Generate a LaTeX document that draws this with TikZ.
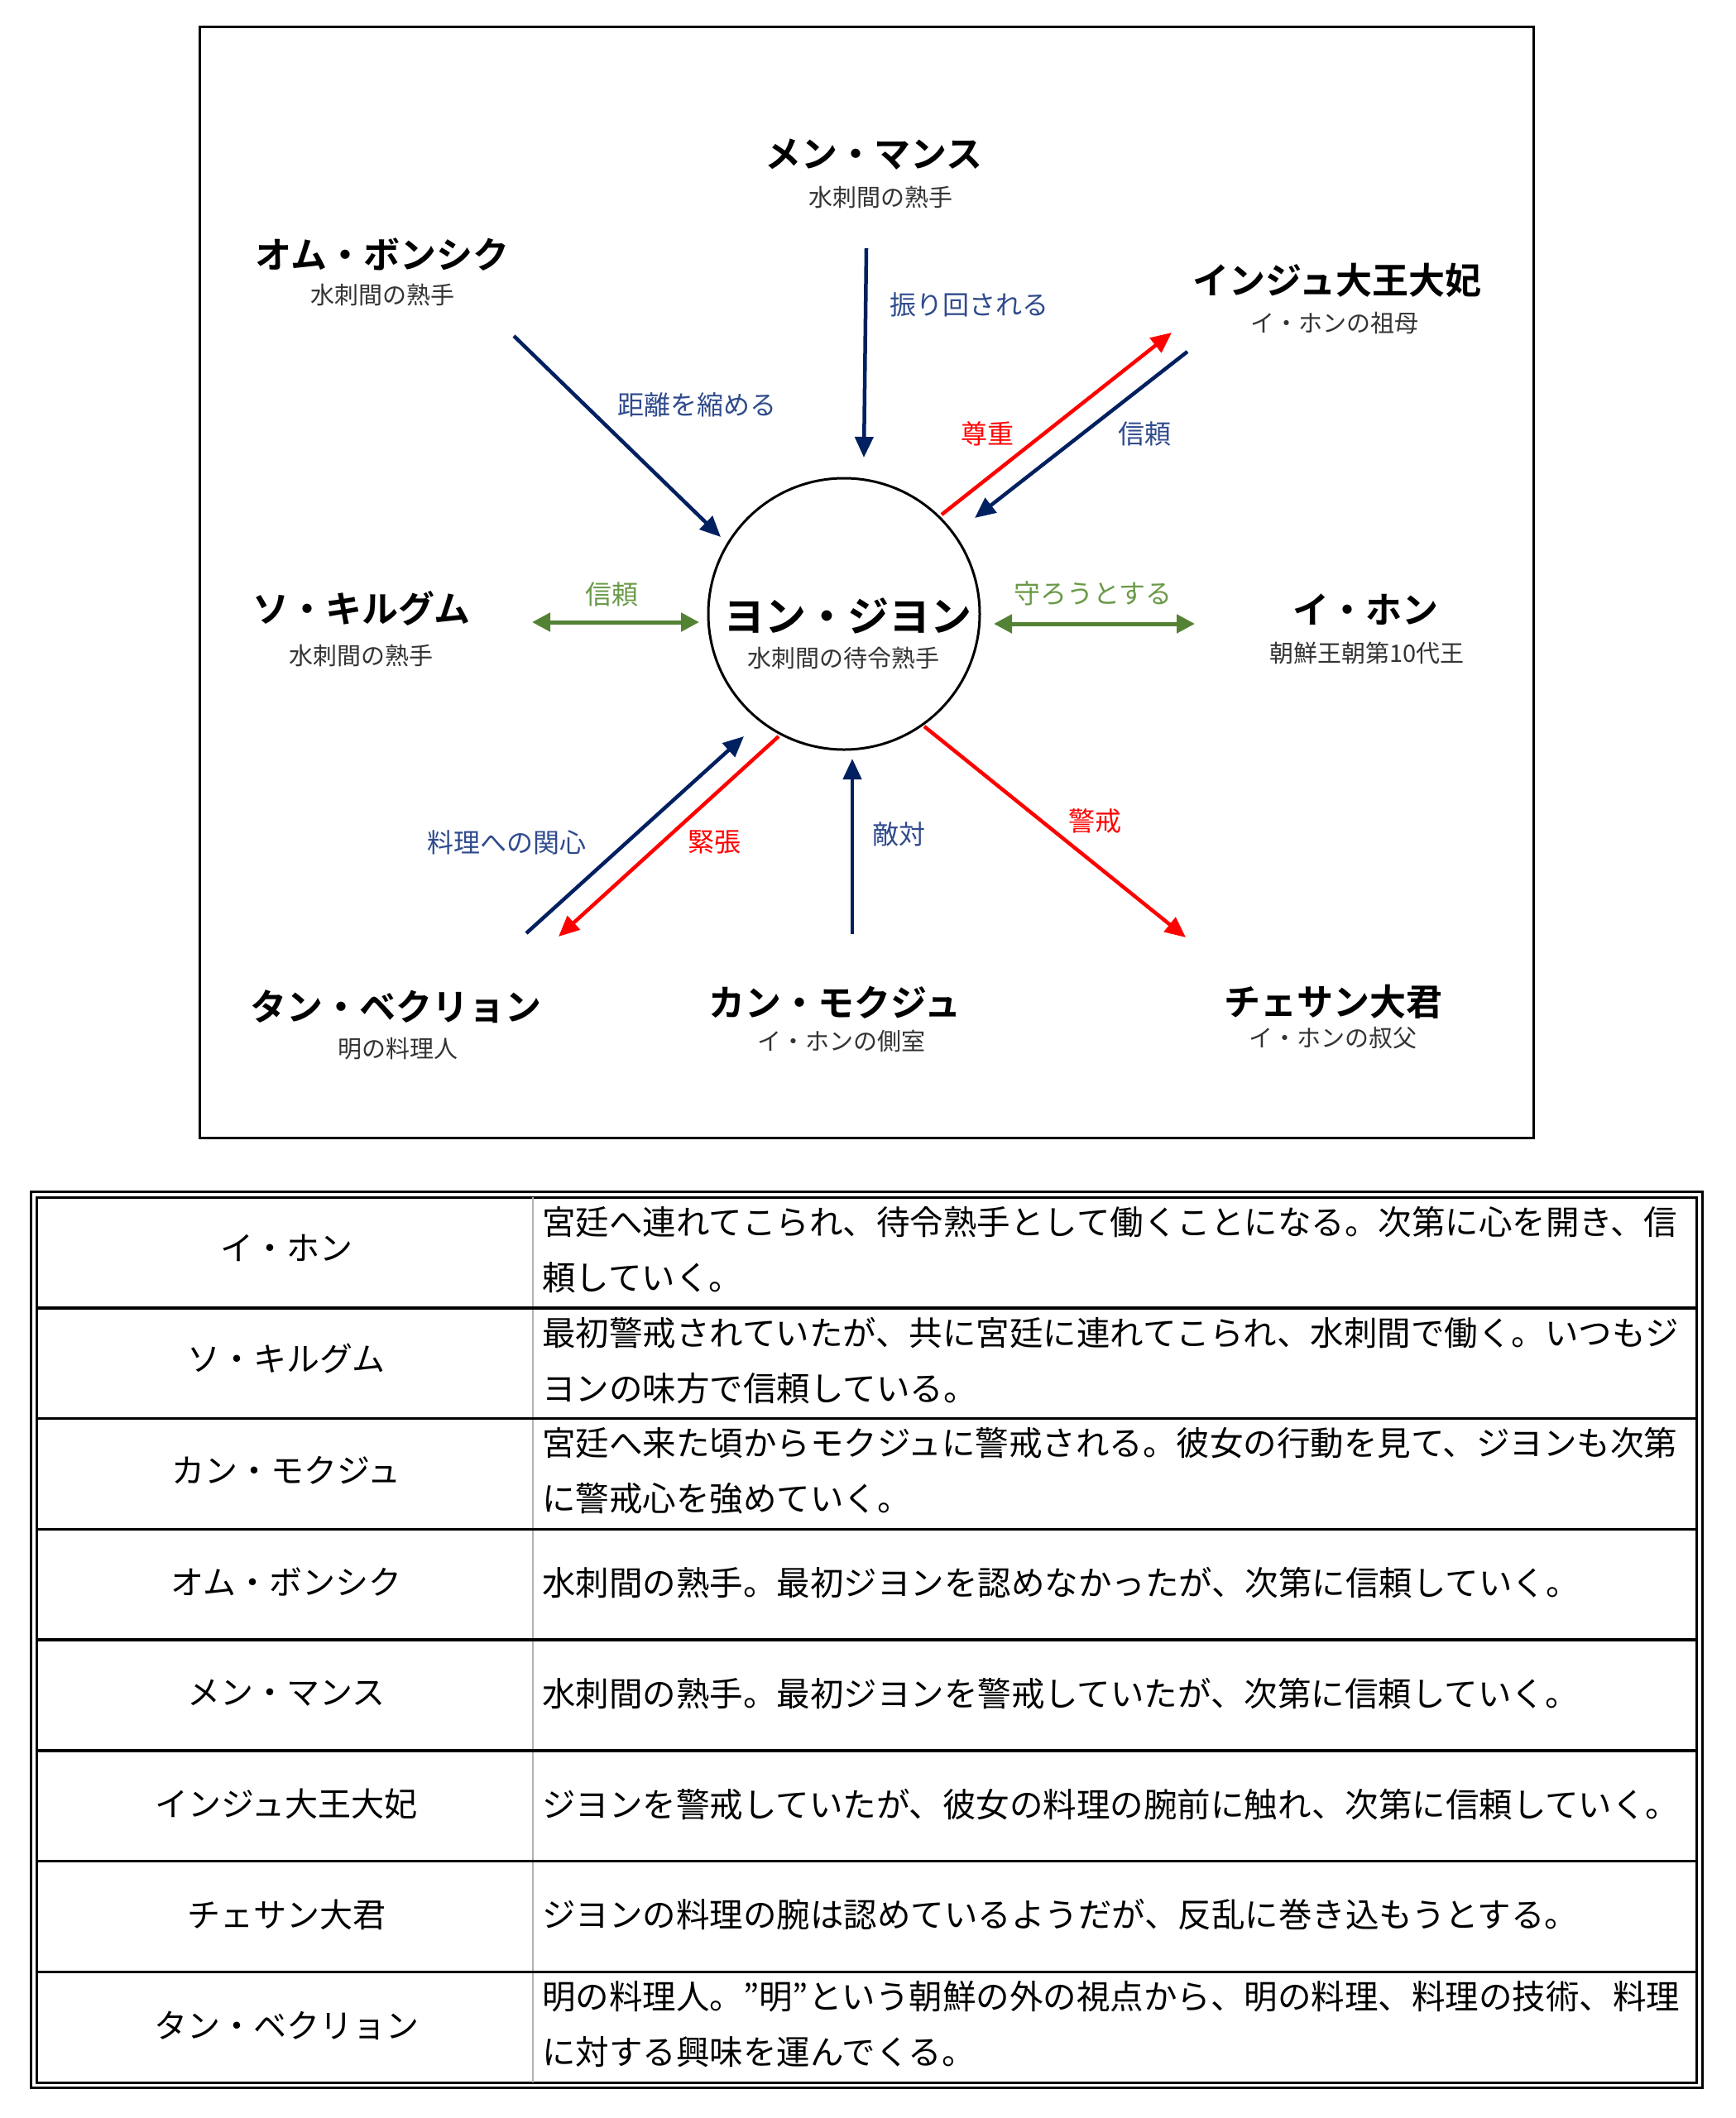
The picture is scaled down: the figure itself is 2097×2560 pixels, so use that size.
\documentclass[tikz,border=0pt]{standalone}
\usepackage{fontspec}
\setmainfont{Noto Sans CJK JP}[BoldFont={Noto Sans CJK JP Bold}]
\usetikzlibrary{arrows.meta}
\definecolor{relnavy}{HTML}{002060}
\definecolor{relred}{HTML}{FF0000}
\definecolor{relgreen}{HTML}{548235}
\definecolor{navytext}{HTML}{2F4B8C}
\definecolor{greentext}{HTML}{6A9A48}

\begin{document}
\begin{tikzpicture}[x=1pt,y=-1pt,
  charname/.style={font=\fontsize{44}{50}\selectfont\bfseries, inner sep=0pt},
  charsub/.style={font=\fontsize{29}{34}\selectfont, text=black!80, inner sep=0pt},
  herocircle/.style={circle, draw, line width=3pt, minimum size=328pt, inner sep=0pt},
  rellabel/.style={font=\fontsize{32}{36}\selectfont, inner sep=0pt},
  navyline/.style={draw=relnavy, line width=4.5pt, -{Triangle[length=25pt,width=22pt]}},
  redline/.style={draw=relred, line width=4.5pt, -{Triangle[length=25pt,width=22pt]}},
  greenline/.style={draw=relgreen, line width=5pt, {Triangle[length=22pt,width=22pt]}-{Triangle[length=22pt,width=22pt]}},
  rowname/.style={font=\fontsize{40}{67}\selectfont, inner sep=0pt},
  rowtext/.style={font=\fontsize{40.5}{67}\selectfont, inner sep=0pt, anchor=west, align=left},
  rowrule/.style={line width=3.5pt}
]
\useasboundingbox (0,0) rectangle (2097,2560);

% diagram frame
\draw[line width=3pt] (241,32) rectangle (1853,1375);

% centre
\node[herocircle] (hero) at (1020,742) {};
\node[charname, font=\fontsize{50}{56}\selectfont\bfseries] (jiyeon) at (1024,744) {ヨン・ジヨン};
\node[charsub] (jiyeon-sub) at (1019,795) {水刺間の待令熟手};

% characters
\node[charname] (manse) at (1056,187) {メン・マンス};
\node[charsub] (manse-sub) at (1064,238) {水刺間の熟手};
\node[charname] (bongsik) at (462,308) {オム・ボンシク};
\node[charsub] (bongsik-sub) at (462,356) {水刺間の熟手};
\node[charname] (inju) at (1616,339) {インジュ大王大妃};
\node[charsub] (inju-sub) at (1613,390) {イ・ホンの祖母};
\node[charname] (kilgeum) at (437,735) {ソ・キルグム};
\node[charsub] (kilgeum-sub) at (436,792) {水刺間の熟手};
\node[charname] (ihon) at (1650,737) {イ・ホン};
\node[charsub] (ihon-sub) at (1652,789) {朝鮮王朝第10代王};
\node[charname] (baekryeong) at (478,1217) {タン・ベクリョン};
\node[charsub] (baekryeong-sub) at (481,1268) {明の料理人};
\node[charname] (mokju) at (1009,1212) {カン・モクジュ};
\node[charsub] (mokju-sub) at (1017,1258) {イ・ホンの側室};
\node[charname] (chesan) at (1611,1211) {チェサン大君};
\node[charsub] (chesan-sub) at (1611,1255) {イ・ホンの叔父};

% arrow ends
\coordinate (bongsik-out) at (621,406);
\coordinate (bongsik-in) at (871,649);
\coordinate (manse-out) at (1047,300);
\coordinate (manse-in) at (1044,553);
\coordinate (inju-red-out) at (1138,622);
\coordinate (inju-red-in) at (1416,402);
\coordinate (inju-navy-out) at (1435,425);
\coordinate (inju-navy-in) at (1178,626);
\coordinate (kilgeum-end) at (643,752);
\coordinate (kilgeum-hero) at (845,752);
\coordinate (ihon-hero) at (1201,754);
\coordinate (ihon-end) at (1444,754);
\coordinate (baek-navy-out) at (636,1128);
\coordinate (baek-navy-in) at (899,890);
\coordinate (baek-red-out) at (941,890);
\coordinate (baek-red-in) at (675,1132);
\coordinate (mokju-out) at (1030,1129);
\coordinate (mokju-in) at (1030,917);
\coordinate (chesan-out) at (1117,878);
\coordinate (chesan-in) at (1433,1133);

% relations
\draw[navyline] (bongsik-out) -- (bongsik-in);
\draw[navyline] (manse-out) -- (manse-in);
\draw[redline] (inju-red-out) -- (inju-red-in);
\draw[navyline] (inju-navy-out) -- (inju-navy-in);
\draw[greenline] (kilgeum-end) -- (kilgeum-hero);
\draw[greenline] (ihon-hero) -- (ihon-end);
\draw[navyline] (baek-navy-out) -- (baek-navy-in);
\draw[redline] (baek-red-out) -- (baek-red-in);
\draw[navyline] (mokju-out) -- (mokju-in);
\draw[redline] (chesan-out) -- (chesan-in);

\node[rellabel, text=navytext] (l-bongsik) at (842,489) {距離を縮める};
\node[rellabel, text=navytext] (l-manse) at (1171,368) {振り回される};
\node[rellabel, text=relred] (l-inju-red) at (1193,524) {尊重};
\node[rellabel, text=navytext] (l-inju-navy) at (1383,524) {信頼};
\node[rellabel, text=greentext] (l-kilgeum) at (739,718) {信頼};
\node[rellabel, text=greentext] (l-ihon) at (1321,717) {守ろうとする};
\node[rellabel, text=navytext] (l-baek-navy) at (612,1018) {料理への関心};
\node[rellabel, text=relred] (l-baek-red) at (863,1018) {緊張};
\node[rellabel, text=navytext] (l-mokju) at (1086,1008) {敵対};
\node[rellabel, text=relred] (l-chesan) at (1323,992) {警戒};

% table
\draw[line width=3pt] (37,1440) rectangle (2057,2523);
\draw[line width=3pt] (44,1447) rectangle (2050,2517);
\draw[draw=black!30, line width=1.5pt] (644,1447) -- (644,2517);
\draw[rowrule] (44,1580.75) -- (2050,1580.75);
\draw[rowrule] (44,1714.5) -- (2050,1714.5);
\draw[rowrule] (44,1848.25) -- (2050,1848.25);
\draw[rowrule] (44,1982) -- (2050,1982);
\draw[rowrule] (44,2115.75) -- (2050,2115.75);
\draw[rowrule] (44,2249.5) -- (2050,2249.5);
\draw[rowrule] (44,2383.25) -- (2050,2383.25);

\node[rowname] (r1-name) at (346,1508) {イ・ホン};
\node[rowtext] (r1-text) at (655,1511) {宮廷へ連れてこられ、待令熟手として働くことになる。次第に心を開き、信\\頼していく。};
\node[rowname] (r2-name) at (346,1642) {ソ・キルグム};
\node[rowtext] (r2-text) at (655,1645) {最初警戒されていたが、共に宮廷に連れてこられ、水刺間で働く。いつもジ\\ヨンの味方で信頼している。};
\node[rowname] (r3-name) at (346,1777) {カン・モクジュ};
\node[rowtext] (r3-text) at (655,1778) {宮廷へ来た頃からモクジュに警戒される。彼女の行動を見て、ジヨンも次第\\に警戒心を強めていく。};
\node[rowname] (r4-name) at (346,1912) {オム・ボンシク};
\node[rowtext] (r4-text) at (655,1913) {水刺間の熟手。最初ジヨンを認めなかったが、次第に信頼していく。};
\node[rowname] (r5-name) at (346,2046) {メン・マンス};
\node[rowtext] (r5-text) at (655,2047) {水刺間の熟手。最初ジヨンを警戒していたが、次第に信頼していく。};
\node[rowname] (r6-name) at (346,2180) {インジュ大王大妃};
\node[rowtext] (r6-text) at (655,2181) {ジヨンを警戒していたが、彼女の料理の腕前に触れ、次第に信頼していく。};
\node[rowname] (r7-name) at (346,2314) {チェサン大君};
\node[rowtext] (r7-text) at (655,2314) {ジヨンの料理の腕は認めているようだが、反乱に巻き込もうとする。};
\node[rowname] (r8-name) at (346,2448) {タン・ベクリョン};
\node[rowtext] (r8-text) at (655,2447) {明の料理人。”明”という朝鮮の外の視点から、明の料理、料理の技術、料理\\に対する興味を運んでくる。};
\end{tikzpicture}
\end{document}
